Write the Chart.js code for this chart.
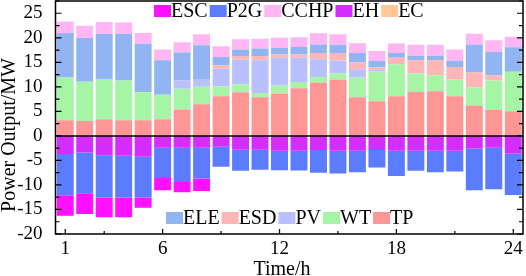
<!DOCTYPE html>
<html>
<head>
<meta charset="utf-8">
<script src="https://cdn.jsdelivr.net/npm/chart.js@4"></script>
<style>
  html, body { margin: 0; padding: 0; background: #fff; }
  canvas { display: block; }
</style>
</head>
<body>
<canvas id="chart" width="526" height="276"></canvas>
<script>
// horas y etiquetas visibles
const hours = ['1','2','3','4','5','6','7','8','9','10','11','12','13','14','15','16','17','18','19','20','21','22','23','24'];
const shownHours = ['1','6','12','18','24'];
const tickHours = ['1','3','6','9','12','15','18','21','24'];
const yTicks = [-20, -15, -10, -5, 0, 5, 10, 15, 20, 25];

// generación (positivo)
const TP   = [3.2,3.05,3.4,3.2,3.2,3.4,5.4,6.45,8.1,8.9,7.9,8.55,9.7,10.9,11.5,7.9,7.05,8.1,8.95,9.1,8.1,6.2,5.3,5.0];
const WT   = [8.7,8.0,8.2,8.1,5.7,5.0,4.2,3.55,2.0,1.6,0.85,1.7,1.3,1.1,1.2,4.0,6.15,6.5,3.75,3.25,3.45,3.65,6.0,8.1];
const PV   = [0,0,0,0,0,0,1.7,1.6,3.6,5.0,6.65,5.7,4.95,3.6,2.6,1.7,0.4,0,0,0,0,0,0,0];
const ESD  = [0,0,0,0,0,0,0,0,0.7,0.8,0.9,0.65,0.65,1.3,1.6,1.4,0.4,1.35,2.7,3.05,2.5,3.05,1.0,0];
const ELE  = [9.1,8.9,9.2,9.5,9.9,7.0,5.7,6.9,1.7,1.3,1.5,1.3,1.5,1.75,1.7,1.9,1.3,0.95,0.95,0.95,1.25,5.75,4.8,4.95];
const CCHP = [2.3,2.5,2.4,2.3,2.2,2.2,2.1,2.2,2.15,2.1,2.0,2.1,2.0,2.3,2.1,2.0,2.0,1.95,2.25,2.25,2.3,2.15,2.4,2.15];

// consumo (negativo)
const EH  = [-3.7,-3.4,-4.05,-4.05,-4.25,-2.4,-2.4,-2.4,-2.2,-2.8,-2.8,-3.05,-3.05,-2.9,-3.05,-3.05,-2.9,-3.05,-3.05,-3.05,-3.05,-2.55,-2.4,-3.6];
const P2G = [-8.4,-8.3,-8.5,-8.5,-8.3,-6.2,-7.0,-6.3,-4.1,-4.3,-4.1,-3.95,-4.0,-4.6,-4.6,-4.35,-3.55,-5.15,-4.05,-4.35,-4.2,-8.55,-8.5,-8.45];
const ESC = [-4.2,-4.2,-4.05,-4.05,-2.1,-2.5,-2.1,-2.55,0,0,0,0,0,0,0,0,0,0,0,0,0,0,0,0];
const EC  = [0,0,0,0,0,0,0,0,0,0,0,0,0,0,0,0,0,0,0,0,0,0,0,0];

const colors = {
  TP: '#ff9696', WT: '#a6f5a6', PV: '#b9c0ff', ESD: '#ffb6b6', ELE: '#92b4f2',
  CCHP: '#ffb6f2', EH: '#d42eff', P2G: '#5b7cff', ESC: '#ff10ff', EC: '#ffc896',
};

const legendTop = ['ESC', 'P2G', 'CCHP', 'EH', 'EC'];
const legendBottom = ['ELE', 'ESD', 'PV', 'WT', 'TP'];

const FONT = '"Liberation Serif", "Times New Roman", serif';

function ds(label, data) {
  return {
    label, data,
    backgroundColor: colors[label],
    borderWidth: 0,
    barPercentage: 0.87,
    categoryPercentage: 1.0,
  };
}

// marco, marcas interiores, línea cero, leyenda y títulos
const decor = {
  id: 'decor',
  afterDraw(chart) {
    const { ctx, chartArea: a, scales: { x, y } } = chart;
    ctx.save();
    ctx.strokeStyle = '#000';
    ctx.lineWidth = 1.5;

    const y0 = y.getPixelForValue(0);
    ctx.beginPath();
    ctx.moveTo(a.left, y0);
    ctx.lineTo(a.right, y0);
    ctx.stroke();

    ctx.strokeRect(a.left, a.top, a.right - a.left, a.bottom - a.top);

    ctx.lineWidth = 1.2;
    ctx.beginPath();
    for (let v = -20; v <= 27.5; v += 2.5) {
      const py = y.getPixelForValue(v);
      const len = v % 5 === 0 ? 6 : 4;
      ctx.moveTo(a.left, py); ctx.lineTo(a.left + len, py);
      ctx.moveTo(a.right, py); ctx.lineTo(a.right - len, py);
    }
    tickHours.forEach(h => {
      const px = x.getPixelForValue(hours.indexOf(h));
      const len = shownHours.includes(h) ? 5 : 3;
      ctx.moveTo(px, a.bottom); ctx.lineTo(px, a.bottom - len);
    });
    ctx.stroke();

    // leyenda
    ctx.font = '20px ' + FONT;
    ctx.textBaseline = 'middle';
    ctx.textAlign = 'left';
    const row = (items, startX, boxTop) => {
      let cx = startX;
      items.forEach(name => {
        ctx.fillStyle = colors[name];
        ctx.fillRect(cx, boxTop, 17, 12);
        ctx.fillStyle = '#000';
        ctx.fillText(name, cx + 17, boxTop + 7);
        cx += 17 + ctx.measureText(name).width + 2;
      });
    };
    row(legendTop, 154, 5);
    row(legendBottom, 166, 212);

    // títulos de ejes
    ctx.fillStyle = '#000';
    ctx.font = '20px ' + FONT;
    ctx.textAlign = 'center';
    ctx.textBaseline = 'alphabetic';
    ctx.fillText('Time/h', 282, 275);
    ctx.translate(15, 135);
    ctx.rotate(-Math.PI / 2);
    ctx.fillText('Power Output/MW', 0, 0);
    ctx.restore();
  },
};

new Chart(document.getElementById('chart'), {
  type: 'bar',
  data: {
    labels: hours,
    datasets: [
      ds('TP', TP), ds('WT', WT), ds('PV', PV), ds('ESD', ESD), ds('ELE', ELE), ds('CCHP', CCHP),
      ds('EH', EH), ds('P2G', P2G), ds('ESC', ESC), ds('EC', EC),
    ],
  },
  options: {
    responsive: false,
    animation: false,
    devicePixelRatio: 1,
    layout: { padding: { left: 0, right: 3, top: 1, bottom: 0 } },
    plugins: { legend: { display: false }, tooltip: { enabled: false } },
    scales: {
      x: {
        stacked: true,
        offset: true,
        grid: { display: false },
        border: { display: false },
        ticks: {
          autoSkip: false,
          maxRotation: 0,
          padding: -4,
          color: '#000',
          font: { family: FONT, size: 19 },
          callback: (v, i) => shownHours.includes(hours[i]) ? hours[i] : '',
        },
        afterFit: s => { s.height = 42; s.paddingLeft = 0; s.paddingRight = 0; },
      },
      y: {
        stacked: true,
        min: -20,
        max: 27.5,
        grid: { display: false },
        border: { display: false },
        ticks: {
          autoSkip: false,
          padding: 5,
          color: '#000',
          font: { family: FONT, size: 19 },
        },
        afterBuildTicks: s => { s.ticks = yTicks.map(v => ({ value: v })); },
        afterFit: s => { s.width = 55.5; s.paddingTop = 0; s.paddingBottom = 0; },
      },
    },
  },
  plugins: [decor],
});
</script>
</body>
</html>
